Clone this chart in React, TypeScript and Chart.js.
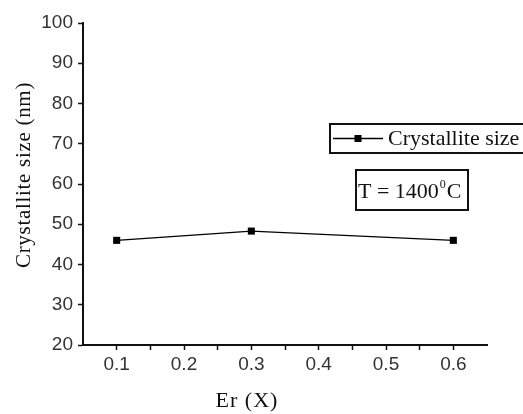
import React, { useEffect, useRef } from "react";
import { Chart, registerables } from "chart.js";

Chart.register(...registerables);

const erValues = [0.1, 0.3, 0.6];
const crystalliteSize = [46.0, 48.3, 46.0];
const seriesLabel = "Crystallite size";
const xTicks = [0.1, 0.15, 0.2, 0.25, 0.3, 0.35, 0.4, 0.45, 0.5, 0.55, 0.6];
const xTitle = "Er (X)";
const yTitle = "Crystallite size (nm)";
const tempLabel = "T = 1400";
const tempSup = "0";
const tempUnit = "C";

const SERIF = '"Liberation Serif", "Times New Roman", serif';
const SANS = '"Liberation Sans", Arial, sans-serif';

const overlayPlugin = {
  id: "overlay",
  afterDraw(chart: any) {
    const ctx = chart.ctx as any;
    ctx.save();
    ctx.fillStyle = "#111";
    ctx.strokeStyle = "#111";
    // Y title
    ctx.save();
    ctx.translate(24, 175);
    ctx.rotate(-Math.PI / 2);
    ctx.font = `21px ${SERIF}`;
    ctx.letterSpacing = "0.7px";
    ctx.textAlign = "center";
    ctx.textBaseline = "middle";
    ctx.fillText(yTitle, 0, 0);
    ctx.restore();
    // X title
    ctx.save();
    ctx.font = `22px ${SERIF}`;
    ctx.letterSpacing = "1px";
    ctx.textAlign = "center";
    ctx.textBaseline = "middle";
    ctx.fillText(xTitle, 247, 401);
    ctx.restore();

    // Legend box
    const ds = chart.data.datasets[0];
    ctx.lineWidth = 2;
    ctx.strokeRect(330, 124, 230, 29);
    ctx.lineWidth = 1.3;
    ctx.strokeStyle = ds.borderColor;
    ctx.beginPath();
    ctx.moveTo(333, 138.5);
    ctx.lineTo(383, 138.5);
    ctx.stroke();
    ctx.fillStyle = ds.pointBackgroundColor;
    ctx.fillRect(354.5, 135, 7, 7);
    ctx.fillStyle = "#111";
    ctx.font = `22px ${SERIF}`;
    ctx.textAlign = "left";
    ctx.textBaseline = "middle";
    ctx.fillText(ds.label, 388, 139);

    // Temperature box
    ctx.strokeStyle = "#111";
    ctx.lineWidth = 2;
    ctx.strokeRect(356, 170, 112, 40);
    ctx.font = `22px ${SERIF}`;
    ctx.textBaseline = "alphabetic";
    let x = 358;
    const base = 198;
    ctx.fillText(tempLabel, x, base);
    x += ctx.measureText(tempLabel).width + 1;
    ctx.font = `12px ${SERIF}`;
    ctx.fillText(tempSup, x, base - 10);
    x += ctx.measureText(tempSup).width + 1;
    ctx.font = `22px ${SERIF}`;
    ctx.fillText(tempUnit, x, base);
    ctx.restore();
  },
};

export default function App() {
  const canvasRef = useRef<HTMLCanvasElement | null>(null);

  useEffect(() => {
    if (!canvasRef.current) return;
    const chart = new Chart(canvasRef.current, {
      type: "line",
      data: {
        datasets: [
          {
            label: seriesLabel,
            data: erValues.map((x, i) => ({ x, y: crystalliteSize[i] })),
            borderColor: "#000",
            borderWidth: 1.3,
            pointStyle: "rect",
            pointRadius: 5,
            pointBackgroundColor: "#000",
            pointBorderColor: "#000",
            pointBorderWidth: 0,
            tension: 0,
          },
        ],
      },
      options: {
        animation: false,
        responsive: false,
        events: [],
        layout: { padding: { top: 23, right: 36, left: 0, bottom: 0 } },
        plugins: {
          legend: { display: false },
          tooltip: { enabled: false },
        },
        scales: {
          x: {
            type: "linear",
            min: 0.05,
            max: 0.65,
            afterBuildTicks: (scale: any) => {
              scale.ticks = xTicks.map((v) => ({ value: v }));
            },
            afterFit: (scale: any) => {
              scale.height = 69;
            },
            grid: {
              drawOnChartArea: false,
              drawTicks: true,
              tickLength: 5,
              tickColor: "#111",
              tickWidth: 1.5,
            },
            border: { display: true, color: "#111", width: 2 },
            ticks: {
              autoSkip: false,
              maxRotation: 0,
              padding: 3,
              color: "#333",
              font: { family: SANS, size: 19 },
              callback: (v: any) => {
                const n = Math.round(Number(v) * 100);
                return n % 10 === 0 ? (n / 100).toFixed(1) : "";
              },
            },
          },
          y: {
            type: "linear",
            min: 20,
            max: 100,
            afterFit: (scale: any) => {
              scale.width = 83;
            },
            grid: {
              drawOnChartArea: false,
              drawTicks: true,
              tickLength: 5,
              tickColor: "#111",
              tickWidth: 1.5,
            },
            border: { display: true, color: "#111", width: 2 },
            ticks: {
              stepSize: 10,
              padding: 5,
              color: "#333",
              font: { family: SANS, size: 19 },
            },
          },
        },
      },
      plugins: [overlayPlugin],
    });
    return () => chart.destroy();
  }, []);

  return (
    <div style={{ position: "fixed", left: 0, top: 0, width: 523, height: 414, background: "#fff" }}>
      <canvas ref={canvasRef} width={523} height={414} style={{ width: 523, height: 414 }} />
    </div>
  );
}
